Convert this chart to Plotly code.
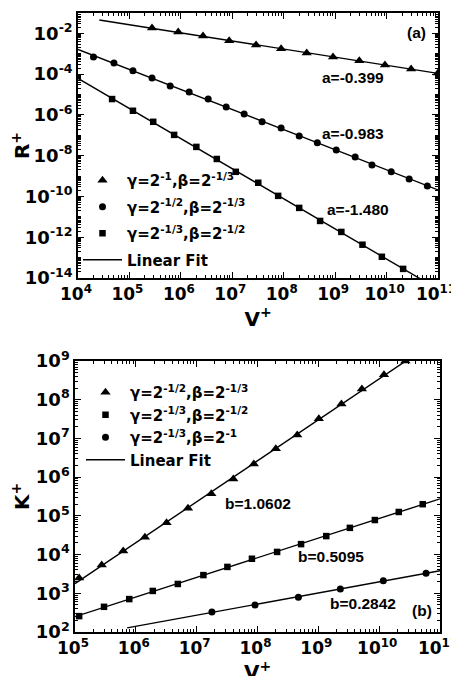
import numpy as np
import plotly.graph_objects as go

# ---------------- Panel (a): R+ vs V+ ----------------
a_tri_V = [2.75e5, 8.9e5, 2.7e6, 8.7e6, 2.9e7, 8.9e7, 2.8e8, 9.1e8, 2.95e9, 9.3e9, 3.0e10, 1.0e11]
a_tri_R = [1.82e-2, 1.17e-2, 7.4e-3, 4.3e-3, 2.7e-3, 1.74e-3, 1.10e-3, 6.9e-4, 4.5e-4, 2.8e-4, 1.78e-4, 1.15e-4]

a_cir_V = [2.0e4, 5.0e4, 1.17e5, 2.75e5, 6.2e5, 1.45e6, 3.4e6, 7.6e6, 1.7e7, 3.8e7, 8.9e7,
           2.0e8, 4.5e8, 1.05e9, 2.45e9, 5.2e9, 1.23e10, 2.75e10, 6.2e10]
a_cir_R = [6.9e-4, 3.5e-4, 1.45e-4, 6.5e-5, 2.6e-5, 1.35e-5, 6.0e-6, 2.45e-6, 1.12e-6, 4.6e-7, 2.3e-7,
           9.3e-8, 4.3e-8, 1.9e-8, 8.7e-9, 3.5e-9, 1.62e-9, 7.2e-10, 3.3e-10]

a_sq_V = [4.6e4, 1.17e5, 2.9e5, 7.4e5, 2.0e6, 5.0e6, 1.17e7, 3.2e7, 7.8e7, 2.0e8, 5.1e8,
          1.32e9, 3.4e9, 8.1e9, 2.1e10]
a_sq_R = [6.0e-6, 1.6e-6, 4.6e-7, 1.05e-7, 2.7e-8, 6.9e-9, 1.62e-9, 4.7e-10, 1.07e-10, 2.75e-11, 6.3e-12,
          1.82e-12, 4.3e-13, 1.1e-13, 2.8e-14]

a_names = ["γ=2<sup>-1</sup>,β=2<sup>-1/3</sup>",
           "γ=2<sup>-1/2</sup>,β=2<sup>-1/3</sup>",
           "γ=2<sup>-1/3</sup>,β=2<sup>-1/2</sup>"]
a_fit_labels = ["a=-0.399", "a=-0.983", "a=-1.480"]
a_fit_from = [2.6e4, 1.0e4, 1.0e4]
a_fit_to = [1.0e11, 1.0e11, 1.0e11]

# ---------------- Panel (b): K+ vs V+ ----------------
b_tri_V = [1.17e5, 2.75e5, 6.2e5, 1.41e6, 3.2e6, 7.2e6, 1.74e7, 4.0e7, 8.7e7, 2.0e8, 4.5e8,
           1.02e9, 2.4e9, 5.2e9, 1.2e10, 2.7e10]
b_tri_K = [2.5e3, 5.4e3, 1.23e4, 2.8e4, 6.6e4, 1.58e5, 3.7e5, 8.9e5, 2.2e6, 5.4e6, 1.23e7,
           3.2e7, 7.8e7, 1.9e8, 4.4e8, 1.0e9]

b_sq_V = [1.17e5, 3.0e5, 7.8e5, 1.9e6, 4.9e6, 1.29e7, 3.2e7, 8.1e7, 2.1e8, 5.2e8, 1.35e9,
          3.3e9, 8.5e9, 2.1e10, 5.2e10]
b_sq_K = [257, 447, 708, 1.15e3, 1.74e3, 2.95e3, 4.8e3, 7.8e3, 1.17e4, 1.86e4, 3.0e4,
          4.9e4, 7.8e4, 1.26e5, 2.0e5]

b_cir_V = [1.78e7, 9.1e7, 4.7e8, 2.3e9, 1.17e10, 5.9e10]
b_cir_K = [331, 501, 794, 1.29e3, 2.1e3, 3.3e3]

b_names = ["γ=2<sup>-1/2</sup>,β=2<sup>-1/3</sup>",
           "γ=2<sup>-1/3</sup>,β=2<sup>-1/2</sup>",
           "γ=2<sup>-1/3</sup>,β=2<sup>-1</sup>"]
b_fit_labels = ["b=1.0602", "b=0.5095", "b=0.2842"]
b_fit_from = [1.0e5, 1.0e5, 7.2e5]
b_fit_to = [1.0e11, 1.0e11, 1.0e11]

# tick exponents (labelled ticks) and axis ranges (decades)
a_x_exp = [4, 5, 6, 7, 8, 9, 10, 11]
a_y_exp = [-14, -12, -10, -8, -6, -4, -2]
b_x_exp = [5, 6, 7, 8, 9, 10, 11]
b_y_exp = [2, 3, 4, 5, 6, 7, 8, 9]
a_x_range = [4, 11]
a_y_range = [-14, -1]
b_x_range = [5, 11]
b_y_range = [2, 9]

sizes = {"triangle-up": 9, "circle": 7, "square": 6.5}

YTICKFONT = dict(family="DejaVu Sans", size=18, color="black", weight="bold")
XTICKFONT = dict(family="DejaVu Sans", size=17, color="black", weight="bold")
TXTFONT = dict(family="Liberation Sans", size=15.5, color="black", weight="bold")
LEGFONT = dict(family="DejaVu Sans", size=15, color="black", weight="bold")
TITLEFONT = dict(family="DejaVu Sans", size=20, color="black", weight="bold")


def fit_line(V, Y, v0, v1):
    p = np.polyfit(np.log10(V), np.log10(Y), 1)
    lx = np.log10([v0, v1])
    return 10 ** lx, 10 ** np.polyval(p, lx)


fig = go.Figure()

panels = [
    ("x", "y", "legend", [(a_tri_V, a_tri_R), (a_cir_V, a_cir_R), (a_sq_V, a_sq_R)],
     ["triangle-up", "circle", "square"], a_names, a_fit_from, a_fit_to),
    ("x2", "y2", "legend2", [(b_tri_V, b_tri_K), (b_sq_V, b_sq_K), (b_cir_V, b_cir_K)],
     ["triangle-up", "square", "circle"], b_names, b_fit_from, b_fit_to),
]

for pi, (xa, ya, leg, series, syms, names, f0, f1) in enumerate(panels):
    for si, ((V, Y), sym, nm) in enumerate(zip(series, syms, names)):
        fig.add_trace(go.Scatter(x=V, y=Y, mode="markers", xaxis=xa, yaxis=ya, legend=leg,
                                 name=nm, legendgroup="p%d_s%d" % (pi, si),
                                 marker=dict(symbol=sym, size=sizes[sym], color="black",
                                             line=dict(width=0))))
    for i, ((V, Y), v0, v1) in enumerate(zip(series, f0, f1)):
        fx, fy = fit_line(V, Y, v0, v1)
        fig.add_trace(go.Scatter(x=fx, y=fy, mode="lines", xaxis=xa, yaxis=ya, legend=leg,
                                 name="Linear Fit", showlegend=(i == 0),
                                 legendgroup="p%d_fit" % pi,
                                 line=dict(color="black", width=1.4)))


def sup(e):
    return "10<sup>%d</sup>" % e


def minor_vals(rng, exps):
    vals = []
    for n in range(rng[0], rng[1] + 1):
        for k in range(1, 10):
            if k == 1 and n in exps:
                continue
            v = k * 10.0 ** n
            if 10.0 ** rng[0] <= v <= 10.0 ** rng[1]:
                vals.append(v)
    return vals


def axis(domain, anchor, exps, rng, title, font, standoff=4):
    return dict(
        type="log", domain=domain, anchor=anchor, range=rng, automargin=False,
        tickmode="array", tickvals=[10.0 ** e for e in exps], ticktext=[sup(e) for e in exps],
        ticks="inside", ticklen=6, tickwidth=1.2, tickcolor="black",
        minor=dict(tickmode="array", tickvals=minor_vals(rng, exps),
                   ticks="inside", ticklen=3, tickwidth=0.8, tickcolor="black", showgrid=False),
        showline=True, linecolor="black", linewidth=1.5, mirror="allticks",
        showgrid=False, zeroline=False, tickfont=font,
        title=dict(text=title, font=TITLEFONT, standoff=standoff),
    )


W, H = 459, 676
OFF = 8  # page body margin of the html page


def xd(px):
    return (px - OFF) / W


def yd(py):
    return (H - (py - OFF)) / H


annots = []
for txt, (ax_, ay_) in zip(a_fit_labels + ["(a)"],
                           [(0.764, 0.755), (0.764, 0.547), (0.778, 0.257), (0.939, 0.928)]):
    annots.append(dict(text=txt, xref="x domain", yref="y domain", x=ax_, y=ay_,
                       showarrow=False, font=TXTFONT, xanchor="center", yanchor="middle"))
for txt, (ax_, ay_) in zip(b_fit_labels + ["(b)"],
                           [(0.501, 0.476), (0.701, 0.277), (0.789, 0.107), (0.951, 0.081)]):
    annots.append(dict(text=txt, xref="x2 domain", yref="y2 domain", x=ax_, y=ay_,
                       showarrow=False, font=TXTFONT, xanchor="center", yanchor="middle"))

fig.update_layout(
    template="none",
    width=W, height=H, margin=dict(l=0, r=0, t=0, b=0, autoexpand=False),
    paper_bgcolor="white", plot_bgcolor="white",
    xaxis=axis((xd(78), xd(438)), "y", a_x_exp, a_x_range, "V<sup>+</sup>", XTICKFONT),
    yaxis=axis((yd(278), yd(13)), "x", a_y_exp, a_y_range, "R<sup>+</sup>", YTICKFONT),
    xaxis2=axis((xd(75), xd(440)), "y2", b_x_exp, b_x_range, "V<sup>+</sup>", XTICKFONT),
    yaxis2=axis((yd(632), yd(361)), "x2", b_y_exp, b_y_range, "K<sup>+</sup>", YTICKFONT,
                standoff=12),
    annotations=annots,
    legend=dict(x=(86 - 2 * OFF) / W, y=(H - 156) / H, xanchor="left", yanchor="top",
                font=LEGFONT, bgcolor="rgba(0,0,0,0)", itemwidth=39, borderwidth=0,
                traceorder="grouped", tracegroupgap=4),
    legend2=dict(x=(89 - 2 * OFF) / W, y=(H - 368) / H, xanchor="left", yanchor="top",
                 font=LEGFONT, bgcolor="rgba(0,0,0,0)", itemwidth=39, borderwidth=0,
                 traceorder="grouped", tracegroupgap=0),
    showlegend=True,
)
fig.update_xaxes(ticklabelshift=-2)

fig.write_html("out.html")
